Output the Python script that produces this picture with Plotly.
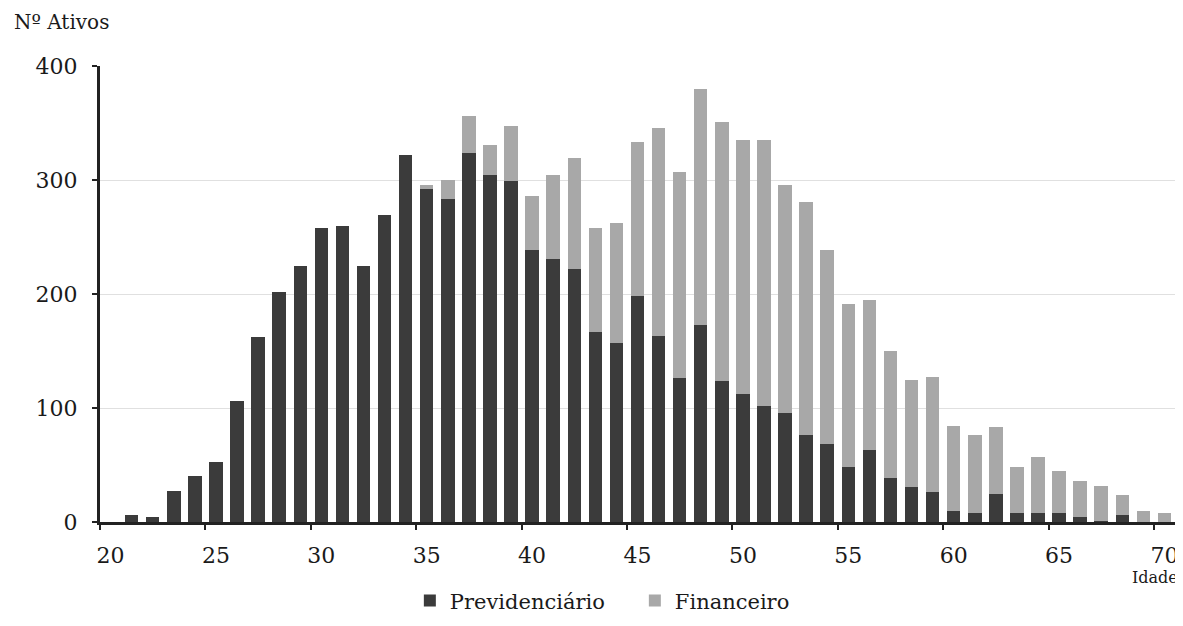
import plotly.graph_objects as go

idades = list(range(20, 71))
previdenciario = [0, 6, 4, 27, 40, 53, 106, 162, 202, 225,
                  258, 260, 225, 269, 322, 292, 283, 324, 304, 299,
                  239, 231, 222, 167, 157, 198, 163, 126, 173, 124,
                  112, 102, 96, 76, 68, 48, 63, 39, 31, 26,
                  10, 8, 25, 8, 8, 8, 4, 1, 6, 0, 0]
financeiro = [0, 0, 0, 0, 0, 0, 0, 0, 0, 0,
              0, 0, 0, 0, 0, 4, 17, 32, 27, 48,
              47, 73, 97, 91, 105, 135, 183, 181, 207, 227,
              223, 233, 200, 205, 171, 143, 132, 111, 94, 101,
              74, 68, 58, 40, 49, 37, 32, 31, 18, 10, 8]
x_ticks = [20, 25, 30, 35, 40, 45, 50, 55, 60, 65, 70]
y_ticks = [0, 100, 200, 300, 400]

FONT = "DejaVu Serif, Liberation Serif, serif"
DARK = "#3b3b3b"
LIGHT = "#a8a8a8"

fig = go.Figure()
fig.add_trace(go.Bar(x=idades, y=previdenciario, name="Previdenciário",
                     marker=dict(color=DARK, line=dict(width=0)), width=0.64))
fig.add_trace(go.Bar(x=idades, y=financeiro, name="Financeiro",
                     marker=dict(color=LIGHT, line=dict(width=0)), width=0.64))

fig.update_layout(
    barmode="stack",
    width=1175, height=618,
    paper_bgcolor="white", plot_bgcolor="white",
    margin=dict(l=92, r=8, t=58, b=104, autoexpand=False),
    font=dict(family=FONT, size=22, color="#1a1a1a"),
    showlegend=True,
    legend=dict(orientation="h", xref="container", x=0.342, xanchor="left",
                yref="container", y=0.0405, yanchor="middle",
                font=dict(size=21), itemwidth=30, traceorder="normal",
                entrywidth=180, entrywidthmode="pixels",
                bgcolor="rgba(0,0,0,0)"),
    xaxis=dict(range=[19.5, 70.5], tickmode="array", tickvals=x_ticks,
               ticks="outside", ticklen=12, tickcolor="rgba(0,0,0,0)",
               showline=True, linecolor="#222222", linewidth=3,
               showgrid=False, zeroline=False,
               minor=dict(tickmode="linear", tick0=19.5, dtick=5, ticks="outside",
                          ticklen=5, tickwidth=2, tickcolor="#222222", showgrid=False),
               tickfont=dict(size=22)),
    yaxis=dict(range=[0, 400], tickmode="array", tickvals=y_ticks,
               ticks="outside", ticklen=5, tickwidth=2, tickcolor="#222222",
               ticklabelstandoff=10,
               showline=True, linecolor="#222222", linewidth=3,
               showgrid=True, gridcolor="#e0e0e0", gridwidth=1,
               zeroline=False, tickfont=dict(size=22)),
)

fig.add_annotation(text="Nº Ativos", xref="paper", yref="paper",
                   x=-0.0819, y=1.0, xanchor="left", yanchor="middle", yshift=44,
                   showarrow=False, font=dict(size=20))
fig.add_annotation(text="Idade", xref="paper", yref="paper",
                   x=1.0, y=0, xanchor="right", yanchor="middle", xshift=5, yshift=-55,
                   showarrow=False, font=dict(size=16))

fig.write_html("out.html")
